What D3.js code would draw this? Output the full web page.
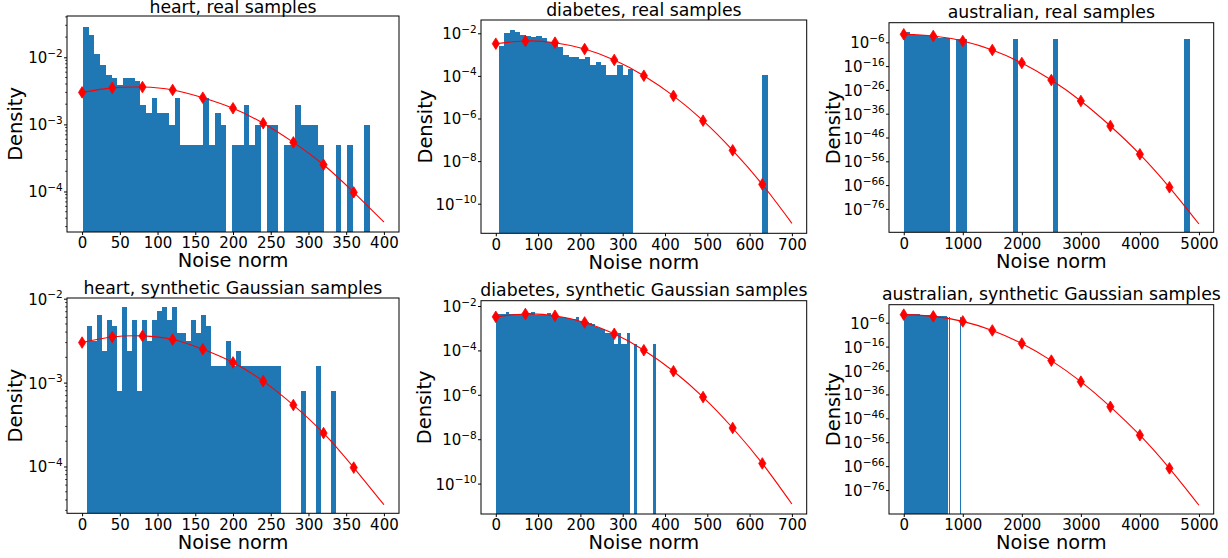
<!DOCTYPE html>
<html><head><meta charset="utf-8">
<script src="https://cdn.jsdelivr.net/npm/d3@7"></script>
<style>
body{margin:0;background:#fff;}
svg text{font-family:"DejaVu Sans",sans-serif;fill:#000;}
</style></head><body>
<svg id="chart" width="1228" height="558"></svg>
<script>
// ---------- tick values ----------
const heartXTicks = [0,50,100,150,200,250,300,350,400];
const diabetesXTicks = [0,100,200,300,400,500,600,700];
const australianXTicks = [0,1000,2000,3000,4000,5000];
const heartYTickExps = [-2,-3,-4];
const diabetesYTickExps = [-2,-4,-6,-8,-10];
const australianYTickExps = [-6,-16,-26,-36,-46,-56,-66,-76];
const minorSubs = [2,3,4,5,6,7,8,9];

// ---------- red reference curves ----------
const heartCurveX = [0,40,80,120,160,200,240,280,320,360,400];
const heartCurveY = [3.0e-3,3.5e-3,3.6e-3,3.26e-3,2.5e-3,1.74e-3,1.04e-3,5.4e-4,2.5e-4,9.7e-5,3.5e-5];
const diabetesCurveX = [0,70,140,210,280,350,420,490,560,630,700];
const diabetesCurveY = [3.25e-3,4.37e-3,3.63e-3,1.82e-3,5.6e-4,1.02e-4,1.15e-5,7.9e-7,3.2e-8,8.1e-10,1.2e-11];
const australianCurveX = [0,500,1000,1500,2000,2500,3000,3500,4000,4500,5000];
const australianCurveY = [2.3e-3,4.5e-4,3.5e-6,5.8e-10,2.0e-15,1.4e-22,2.2e-31,6.8e-42,8.7e-54,1.2e-67,4.6e-83];

// ---------- histograms (50 bins each) ----------
const heartRealBinRange = [0.9, 381.8];
const heartRealDensity = [0.0287,0.0214,0.0112,0.0078,0.00536,0.00487,0.0039,0.00487,0.00487,0.00438,
  0.00195,0.00146,0.00244,0.00146,0.00146,0.000974,0.00244,0.000487,0.000487,0.000487,
  0.000487,0.00244,0.000487,0.00146,0.000974,0,0.000487,0.000487,0.00195,0.000487,
  0.000974,0,0.000974,0.000974,0,0.000487,0.000487,0.00195,0.000974,0.000974,
  0.000974,0.000487,0,0,0.000487,0,0.000487,0,0,0.000974];

const heartSynthBinRange = [6.2, 336.6];
const heartSynthDensity = [4.74e-3,3.16e-3,6.32e-3,2.37e-3,5.53e-3,4.74e-3,7.9e-4,7.9e-3,2.37e-3,5.53e-3,
  7.9e-4,5.53e-3,3.16e-3,5.53e-3,7.11e-3,7.9e-3,5.53e-3,7.9e-3,3.95e-3,3.95e-3,
  3.16e-3,5.53e-3,3.95e-3,6.32e-3,4.74e-3,1.58e-3,1.58e-3,1.58e-3,3.16e-3,1.58e-3,
  2.37e-3,1.58e-3,1.58e-3,1.58e-3,1.58e-3,1.58e-3,1.58e-3,1.58e-3,1.58e-3,0,
  0,0,0,7.9e-4,0,0,1.58e-3,0,0,7.9e-4];

const diabetesRealBinRange = [7.1, 642.9];
const diabetesRealDensity = [2.5e-3,1.0e-2,1.41e-2,1.12e-2,8.7e-3,7.4e-3,6.5e-3,7.8e-3,6.2e-3,4.1e-3,
  4.1e-3,2.2e-3,9.5e-4,7.9e-4,7.9e-4,6.0e-4,7.4e-4,3.2e-4,4.7e-4,3.2e-4,
  1.05e-4,1.05e-4,3.2e-4,1.05e-4,2.1e-4,0,0,0,0,0,
  0,0,0,0,0,0,0,0,0,0,
  0,0,0,0,0,0,0,0,0,1.05e-4];

const diabetesSynthBinRange = [1, 378.5];
const diabetesSynthDensity = [4.17e-3,4.17e-3,4.17e-3,5.13e-3,4.17e-3,4.17e-3,4.47e-3,4.47e-3,3.89e-3,4.47e-3,
  4.68e-3,5.13e-3,3.89e-3,3.89e-3,3.89e-3,3.89e-3,4.68e-3,3.89e-3,4.17e-3,3.09e-3,
  3.09e-3,3.09e-3,2.75e-3,2.51e-3,2.51e-3,3.16e-3,2.09e-3,1.95e-3,1.82e-3,1.66e-3,
  1.48e-3,1.17e-3,1.05e-3,9.1e-4,5.9e-4,5.9e-4,4.9e-4,1.95e-4,5.9e-4,1.95e-4,
  1.95e-4,5.9e-4,0,1.95e-4,0,0,0,0,0,1.95e-4];

const australianRealBinRange = [5, 4847];
const australianRealDensity = [2.0e-2,2.5e-3,1.6e-3,1.0e-3,5.0e-4,2.0e-4,1.0e-4,5.0e-5,0,2.5e-5,
  2.5e-5,0,0,0,0,0,0,0,0,2.5e-5,
  0,0,0,0,0,0,2.5e-5,0,0,0,
  0,0,0,0,0,0,0,0,0,0,
  0,0,0,0,0,0,0,0,0,2.5e-5];

const australianSynthBinRange = [2, 978];
const australianSynthDensity = [4.47e-3,3.98e-3,3.80e-3,3.55e-3,3.98e-3,3.31e-3,3.16e-3,3.47e-3,3.02e-3,2.82e-3,
  3.16e-3,3.55e-3,5.01e-3,4.47e-3,2.40e-3,2.24e-3,2.51e-3,2.19e-3,2.0e-3,1.91e-3,
  1.78e-3,1.91e-3,1.66e-3,1.51e-3,1.41e-3,1.26e-3,1.20e-3,1.12e-3,1.0e-3,8.9e-4,
  8.3e-4,7.6e-4,7.1e-4,6.3e-4,5.6e-4,5.0e-4,4.5e-4,3.5e-4,0,2.0e-4,
  0,0,0,0,0,0,0,0,0,2.0e-4];

// ---------- layout ----------
const panels = [
  {title:"heart, real samples", left:67, right:399, top:16, bottom:232, xDomain:[-20,420], xTicks:heartXTicks,
   yExp:[-4.6036,-1.3845], yTicks:heartYTickExps, minor:true, ylabDx:45.5,
   binRange:heartRealBinRange, density:heartRealDensity, cx:heartCurveX, cy:heartCurveY},
  {title:"diabetes, real samples", left:481, right:806.7, top:20, bottom:233.3, xDomain:[-35,735], xTicks:diabetesXTicks,
   yExp:[-11.39,-1.3756], yTicks:diabetesYTickExps, minor:false, ylabDx:49.5,
   binRange:diabetesRealBinRange, density:diabetesRealDensity, cx:diabetesCurveX, cy:diabetesCurveY},
  {title:"australian, real samples", left:889, right:1213.7, top:22.7, bottom:232.3, xDomain:[-250,5250], xTicks:australianXTicks,
   yExp:[-85.83,2.235], yTicks:australianYTickExps, minor:false, ylabDx:49.5,
   binRange:australianRealBinRange, density:australianRealDensity, cx:australianCurveX, cy:australianCurveY},
  {title:"heart, synthetic Gaussian samples", left:67, right:399, top:298, bottom:513.3, xDomain:[-20,420], xTicks:heartXTicks,
   yExp:[-4.5578,-1.9917], yTicks:heartYTickExps, minor:true, ylabDx:45.5,
   binRange:heartSynthBinRange, density:heartSynthDensity, cx:heartCurveX, cy:heartCurveY},
  {title:"diabetes, synthetic Gaussian samples", left:481, right:806.7, top:300.7, bottom:514, xDomain:[-35,735], xTicks:diabetesXTicks,
   yExp:[-11.369,-1.761], yTicks:diabetesYTickExps, minor:false, ylabDx:50.5,
   binRange:diabetesSynthBinRange, density:diabetesSynthDensity, cx:diabetesCurveX, cy:diabetesCurveY},
  {title:"australian, synthetic Gaussian samples", left:889, right:1213.7, top:304.7, bottom:514, xDomain:[-250,5250], xTicks:australianXTicks,
   yExp:[-86.01,1.528], yTicks:australianYTickExps, minor:false, ylabDx:49.5,
   binRange:australianSynthBinRange, density:australianSynthDensity, cx:australianCurveX, cy:australianCurveY}
];

const svg = d3.select("#chart");
const defs = svg.append("defs");
const FONT = "DejaVu Sans";

panels.forEach((p, i) => {
  const x = d3.scaleLinear().domain(p.xDomain).range([p.left, p.right]);
  const y = d3.scaleLog().domain([Math.pow(10, p.yExp[0]), Math.pow(10, p.yExp[1])]).range([p.bottom, p.top]);
  const g = svg.append("g");
  const cid = "clip" + i;
  defs.append("clipPath").attr("id", cid).append("rect")
    .attr("x", p.left).attr("y", p.top).attr("width", p.right - p.left).attr("height", p.bottom - p.top);

  // histogram bars
  const n = p.density.length;
  const w = (p.binRange[1] - p.binRange[0]) / n;
  const bins = p.density.map((v, k) => ({x0: p.binRange[0] + k * w, x1: p.binRange[0] + (k + 1) * w, v}))
    .filter(b => b.v > 0);
  g.append("g").attr("clip-path", `url(#${cid})`)
    .selectAll("rect").data(bins).join("rect")
    .attr("x", b => x(b.x0)).attr("width", b => x(b.x1) - x(b.x0))
    .attr("y", b => y(b.v)).attr("height", b => p.bottom - y(b.v))
    .attr("fill", "#1f77b4").attr("shape-rendering", "crispEdges");

  // curve + markers
  const pts = p.cx.map((xv, k) => [xv, p.cy[k]]);
  const line = d3.line().x(d => x(d[0])).y(d => y(d[1])).curve(d3.curveNatural);
  const cg = g.append("g").attr("clip-path", `url(#${cid})`);
  cg.append("path").attr("d", line(pts)).attr("fill", "none").attr("stroke", "#ff0000").attr("stroke-width", 1.1);
  g.selectAll("path.mk").data(pts.slice(0, -1)).join("path").attr("class", "mk")
    .attr("d", "M0,-5.8L3.6,0L0,5.8L-3.6,0Z")
    .attr("transform", d => `translate(${x(d[0])},${y(d[1])})`)
    .attr("fill", "#ff0000").attr("stroke", "#ff0000").attr("stroke-width", 0.8);

  // x axis
  const xa = g.append("g").attr("transform", `translate(0,${p.bottom})`)
    .call(d3.axisBottom(x).tickValues(p.xTicks).tickSize(3).tickPadding(2.7).tickFormat(d3.format("d")));
  xa.select(".domain").remove();
  xa.selectAll("text").attr("font-size", 15).attr("font-family", FONT).attr("fill", "#000");
  xa.selectAll("line").attr("stroke", "#000");

  // y axis major ticks
  const ya = g.append("g").attr("transform", `translate(${p.left},0)`)
    .call(d3.axisLeft(y).tickValues(p.yTicks.map(e => Math.pow(10, e))).tickSize(3).tickFormat(""));
  ya.select(".domain").remove();
  ya.selectAll("line").attr("stroke", "#000");
  // minor ticks
  if (p.minor) {
    const minors = [];
    for (let d = Math.floor(p.yExp[0]); d <= Math.ceil(p.yExp[1]); d++) {
      minorSubs.forEach(s => { const v = s * Math.pow(10, d); if (v > y.domain()[0] && v < y.domain()[1]) minors.push(v); });
    }
    g.selectAll("line.minor").data(minors).join("line").attr("class", "minor")
      .attr("x1", p.left - 1.8).attr("x2", p.left).attr("y1", v => y(v)).attr("y2", v => y(v))
      .attr("stroke", "#000").attr("stroke-width", 0.8);
  }
  // y tick labels (10^e)
  g.selectAll("text.yl").data(p.yTicks).join("text").attr("class", "yl")
    .attr("x", p.left - 4.2).attr("y", e => y(Math.pow(10, e)) + 6)
    .attr("text-anchor", "end").attr("font-size", 15)
    .each(function(e) {
      const t = d3.select(this);
      t.append("tspan").text("10");
      t.append("tspan").attr("font-size", 10.5).attr("dy", -6.5).text("\u2212" + Math.abs(e));
    });

  // frame
  g.append("rect").attr("x", p.left).attr("y", p.top).attr("width", p.right - p.left).attr("height", p.bottom - p.top)
    .attr("fill", "none").attr("stroke", "#000").attr("stroke-width", 1);

  // labels
  const cxm = (p.left + p.right) / 2, cym = (p.top + p.bottom) / 2;
  g.append("text").attr("x", cxm).attr("y", Math.max(p.top - 4.3, 13)).attr("text-anchor", "middle").attr("font-size", 17.3).text(p.title);
  g.append("text").attr("x", cxm).attr("y", p.bottom + 35.2).attr("text-anchor", "middle").attr("font-size", 19.4).text("Noise norm");
  g.append("text").attr("transform", `translate(${p.left - p.ylabDx},${cym}) rotate(-90)`)
    .attr("text-anchor", "middle").attr("font-size", 19.4).text("Density");
});
</script>
</body></html>
